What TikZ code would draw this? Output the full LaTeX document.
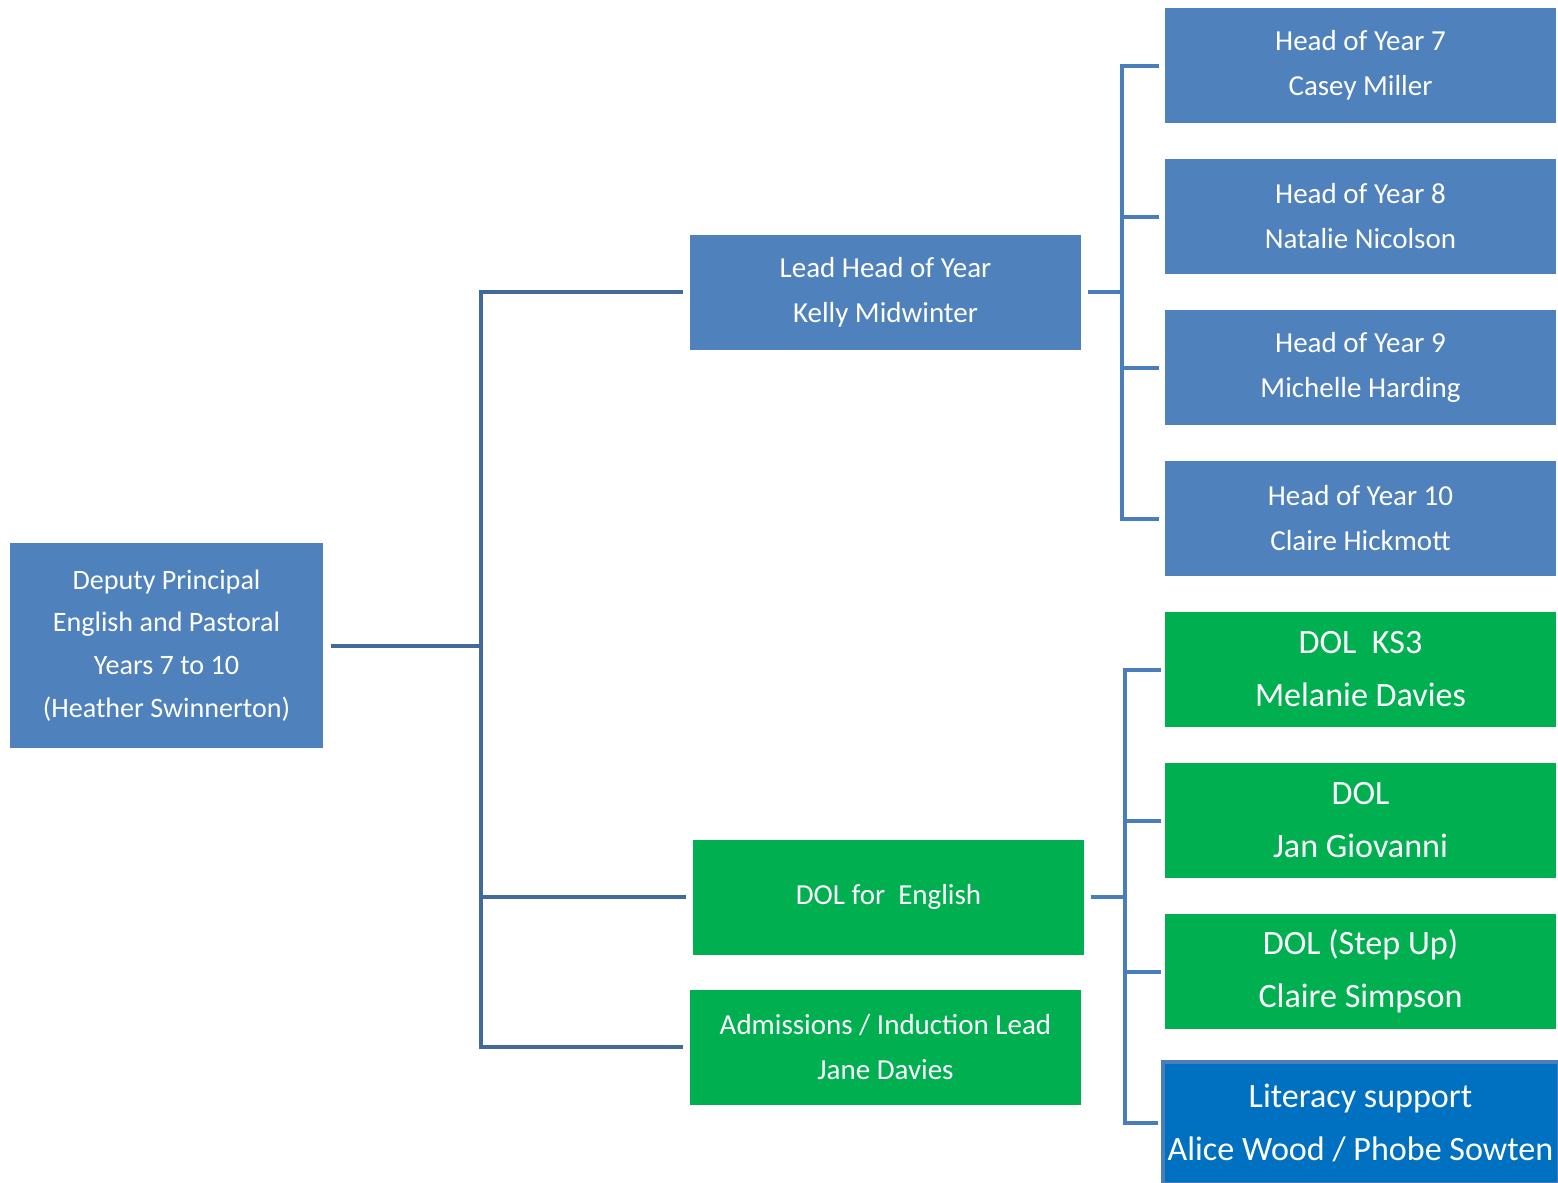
\documentclass[tikz,border=0pt]{standalone}
\usepackage{fontspec}
\setmainfont{Carlito}
\usepackage{tikz}
\usetikzlibrary{positioning}
\definecolor{boxblue}{HTML}{4F81BD}
\definecolor{boxgreen}{HTML}{00B050}
\definecolor{litblue}{HTML}{0070C0}
\definecolor{linedark}{HTML}{41699A}
\definecolor{linelight}{HTML}{4A7EBB}

\begin{document}
\begin{tikzpicture}[node distance=1.51cm,on grid,
	every node/.style={text=white,align=center,inner sep=0pt},
	bluebox/.style={fill=boxblue,minimum width=3.91cm,minimum height=1.15cm,font=\fontsize{8.25}{12.8}\selectfont},
	greenbox/.style={fill=boxgreen,minimum width=3.91cm,minimum height=1.15cm,font=\fontsize{9.7}{15.1}\selectfont}]
	\useasboundingbox (0,0) rectangle (15.58,-11.82);
	\node[bluebox,minimum width=3.13cm,minimum height=2.05cm,font=\fontsize{8}{12.2}\selectfont]
	                     (dp)   at (1.665,-6.455)    {Deputy Principal\\English and Pastoral\\Years 7 to 10\\(Heather Swinnerton)};
	\node[bluebox]       (lead) at (8.855,-2.92)     {Lead Head of Year\\Kelly Midwinter};
	\node[greenbox,font=\fontsize{8.25}{12.8}\selectfont]
	                     (eng)  at (8.885,-8.97)     {DOL for~ English};
	\node[greenbox,font=\fontsize{8.25}{12.8}\selectfont]
	                     (adm)  at (8.855,-10.47)    {Admissions / Induction Lead\\Jane Davies};
	\node[bluebox]       (hy7)  at (13.605,-0.655)   {Head of Year 7\\Casey Miller};
	\node[bluebox]       (hy8)  [below =of hy7]      {Head of Year 8\\Natalie Nicolson};
	\node[bluebox]       (hy9)  [below =of hy8]      {Head of Year 9\\Michelle Harding};
	\node[bluebox]       (hy10) [below =of hy9]      {Head of Year 10\\Claire Hickmott};
	\node[greenbox]      (ks3)  [below =of hy10]     {DOL~ KS3\\Melanie Davies};
	\node[greenbox]      (dol)  [below =of ks3]      {DOL\\Jan Giovanni};
	\node[greenbox]      (step) [below =of dol]      {DOL (Step Up)\\Claire Simpson};
	\node[greenbox,fill=litblue,draw=linelight,line width=0.04cm,minimum width=3.96cm,minimum height=1.22cm]
	                     (lit)  [below =1.515cm of step] {Literacy support\\Alice Wood / Phobe Sowten};
	\coordinate (t)  at (4.81,-6.455);
	\coordinate (r1) at (11.22,-2.92);
	\coordinate (r2) at (11.25,-8.97);
	\tikzset{trunk/.style={draw=linedark,line width=0.04cm},
	         branch/.style={draw=linelight,line width=0.04cm}}
	\draw[trunk] ([xshift=0.07cm]dp.east) -- (t);
	\foreach \n in {lead,eng,adm}
		\draw[trunk] (t) |- ([xshift=-0.06cm]\n.west);
	\draw[branch] ([xshift=0.06cm]lead.east) -- (r1);
	\foreach \n in {hy7,hy8,hy9,hy10}
		\draw[branch] (r1) |- ([xshift=-0.05cm]\n.west);
	\draw[branch] ([xshift=0.06cm]eng.east) -- (r2);
	\foreach \n in {ks3,dol,step,lit}
		\draw[branch] (r2) |- ([xshift=-0.03cm]\n.west);
\end{tikzpicture}
\end{document}
